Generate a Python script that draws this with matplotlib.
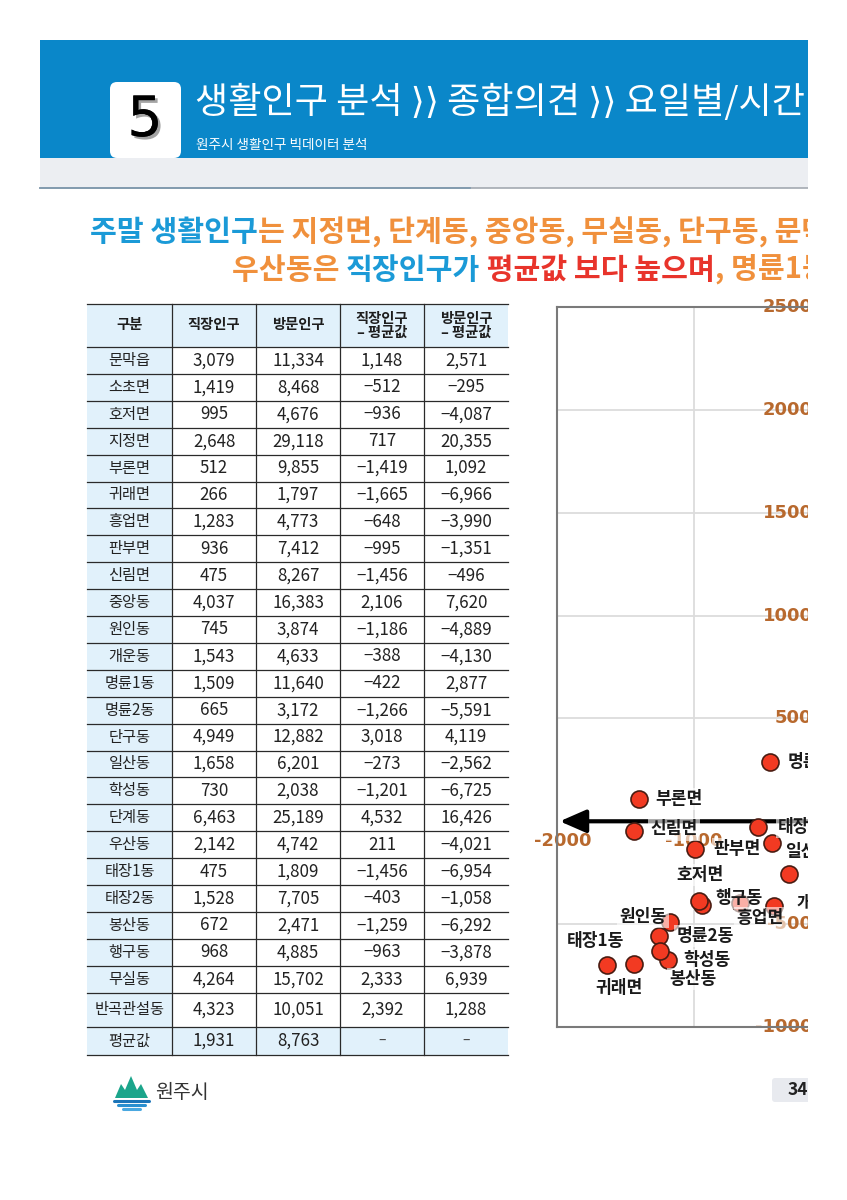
import matplotlib
matplotlib.use('Agg')
import matplotlib.pyplot as plt
import matplotlib.patheffects as pe
from matplotlib.patches import Rectangle, FancyBboxPatch, Polygon

plt.rcParams['font.family'] = ['Noto Sans CJK KR', 'DejaVu Sans']

W, H = 847, 1200

regions = ['문막읍', '소초면', '호저면', '지정면', '부론면', '귀래면', '흥업면', '판부면', '신림면',
           '중앙동', '원인동', '개운동', '명륜1동', '명륜2동', '단구동', '일산동', '학성동', '단계동',
           '우산동', '태장1동', '태장2동', '봉산동', '행구동', '무실동', '반곡관설동']
work_pop = [3079, 1419, 995, 2648, 512, 266, 1283, 936, 475, 4037, 745, 1543, 1509,
            665, 4949, 1658, 730, 6463, 2142, 475, 1528, 672, 968, 4264, 4323]
visit_pop = [11334, 8468, 4676, 29118, 9855, 1797, 4773, 7412, 8267, 16383, 3874, 4633, 11640,
             3172, 12882, 6201, 2038, 25189, 4742, 1809, 7705, 2471, 4885, 15702, 10051]
work_dev = [1148, -512, -936, 717, -1419, -1665, -648, -995, -1456, 2106, -1186, -388, -422,
            -1266, 3018, -273, -1201, 4532, 211, -1456, -403, -1259, -963, 2333, 2392]
visit_dev = [2571, -295, -4087, 20355, 1092, -6966, -3990, -1351, -496, 7620, -4889, -4130, 2877,
             -5591, 4119, -2562, -6725, 16426, -4021, -6954, -1058, -6292, -3878, 6939, 1288]
avg_label = '평균값'
work_avg = 1931
visit_avg = 8763
header = ['구분', '직장인구', '방문인구', '직장인구\n– 평균값', '방문인구\n– 평균값']

y_ticks = [25000, 20000, 15000, 10000, 5000, -5000, -10000]
x_ticks = [-2000, -1000, 0]

# label placement for the scatter (pixel offsets, ha)
label_pos = {
    '부론면': (16, 0, 'left'), '신림면': (16, 2, 'left'), '판부면': (19, 0, 'left'),
    '호저면': (-2, 30, 'center'), '행구동': (17, 3, 'left'), '흥업면': (20, -15, 'center'),
    '원인동': (-3, 5, 'right'), '명륜2동': (17, 0, 'left'), '학성동': (16, 0, 'left'),
    '봉산동': (33, -28, 'center'), '태장1동': (-39, 23, 'center'), '귀래면': (12, -23, 'center'),
    '명륜1동': (18, 0, 'left'), '태장2동': (6, 16, 'left'), '일산동': (-4, 22, 'left'),
    '개운동': (22, 3, 'left'), '소초면': (70, 30, 'left'),
}

BLUE = '#1b9ad7'
ORANGE = '#f0903c'
RED = '#e8342b'
BROWN = '#b8692e'
LIGHT = '#e1f1fb'


def fmt(v):
    return f'{v:,}'.replace('-', '−')


fig = plt.figure(figsize=(W / 100, H / 100), dpi=100)
fig.patch.set_facecolor('white')
bg = fig.add_axes([0, 0, 1, 1])
bg.set_xlim(0, W)
bg.set_ylim(H, 0)
bg.axis('off')

# ---- banner ----
bg.add_patch(Rectangle((40, 40), 768, 118, color='#0a87c9', lw=0))
bg.add_patch(Rectangle((40, 158), 768, 30, color='#eceef2', lw=0))
bg.plot([40, 808], [188, 188], color='#a3a9b1', lw=1.2)
bg.plot([40, 470], [188, 188], color='#7b97ad', lw=1.2)
bg.add_patch(FancyBboxPatch((110, 82), 71, 76, boxstyle='round,pad=0,rounding_size=7',
                            fc='white', ec='none'))
bg.text(145, 121, '5', fontsize=40, family=['Liberation Sans Narrow', 'DejaVu Sans'],
        ha='center', va='center', color='black',
        path_effects=[pe.withSimplePatchShadow(offset=(2, -2), shadow_rgbFace='#9a9a9a', alpha=0.9),
                      pe.Normal()])
bg.text(195, 102, '생활인구 분석 ⟩⟩ 종합의견 ⟩⟩ 요일별/시간대별', fontsize=26, color='white',
        ha='left', va='center', fontweight='medium')
bg.text(196, 145, '원주시 생활인구 빅데이터 분석', fontsize=9.8, color='white', ha='left', va='center')

# ---- heading lines ----
renderer = fig.canvas.get_renderer()


def draw_runs(x, y, runs, size):
    for s, c in runs:
        t = bg.text(x, y, s, color=c, fontsize=size, fontweight='bold', ha='left', va='center')
        x += t.get_window_extent(renderer=renderer).width


draw_runs(90, 232, [('주말 생활인구', BLUE), ('는 지정면, 단계동, 중앙동, 무실동, 단구동, 문막읍,', ORANGE)], 21)
draw_runs(232, 270, [('우산동은 ', ORANGE), ('직장인구가', BLUE), (' 평균값 보다 높으며', RED),
                     (', 명륜1동', ORANGE)], 21)

# ---- table ----
col_x = [87, 172, 256, 340, 424, 508]
row_y = [304, 347] + [347 + 26.9 * (k + 1) for k in range(24)] + [1027, 1055]
n_rows = len(row_y) - 1

# backgrounds
bg.add_patch(Rectangle((col_x[0], row_y[0]), col_x[-1] - col_x[0], row_y[1] - row_y[0], color=LIGHT, lw=0))
bg.add_patch(Rectangle((col_x[0], row_y[-2]), col_x[-1] - col_x[0], row_y[-1] - row_y[-2], color=LIGHT, lw=0))
bg.add_patch(Rectangle((col_x[0], row_y[0]), col_x[1] - col_x[0], row_y[-1] - row_y[0], color=LIGHT, lw=0))

for yy in row_y:
    bg.plot([col_x[0], col_x[-1]], [yy, yy], color='#2a2a2a', lw=0.9)
for xx in col_x[1:-1]:
    bg.plot([xx, xx], [row_y[0], row_y[-1]], color='#2a2a2a', lw=0.9)


def cx(i):
    return (col_x[i] + col_x[i + 1]) / 2


def cy(j):
    return (row_y[j] + row_y[j + 1]) / 2


for i, h in enumerate(header):
    bg.text(cx(i), cy(0), h, ha='center', va='center', fontsize=10.3, fontweight='bold',
            color='#1e1e1e', linespacing=1.0)

NAME_FS = 11
NUM_FS = 12.2
for j, name in enumerate(regions):
    vals = [work_pop[j], visit_pop[j], work_dev[j], visit_dev[j]]
    bg.text(cx(0), cy(j + 1), name, ha='center', va='center', fontsize=NAME_FS, color='#222222')
    for i, v in enumerate(vals):
        bg.text(cx(i + 1), cy(j + 1), fmt(v), ha='center', va='center', fontsize=NUM_FS, color='#222222')

last = n_rows - 1
bg.text(cx(0), cy(last), avg_label, ha='center', va='center', fontsize=NAME_FS, color='#222222')
bg.text(cx(1), cy(last), fmt(work_avg), ha='center', va='center', fontsize=NUM_FS, color='#222222')
bg.text(cx(2), cy(last), fmt(visit_avg), ha='center', va='center', fontsize=NUM_FS, color='#222222')
bg.text(cx(3), cy(last), '–', ha='center', va='center', fontsize=10, color='#444444')
bg.text(cx(4), cy(last), '–', ha='center', va='center', fontsize=10, color='#444444')

# ---- footer ----
bg.add_patch(Polygon([(115, 1098), (121, 1084), (125, 1090), (131, 1076), (137, 1090),
                      (141, 1084), (148, 1098)], closed=True, fc='#1ba58b', ec='none'))
for yy, x0, x1, c in [(1101, 114, 149, '#1b74b8'), (1105, 118, 145, '#2a8fd0'), (1108.5, 123, 140, '#4aa8e0')]:
    bg.plot([x0, x1], [yy, yy], color=c, lw=2.2, solid_capstyle='round')
bg.text(155, 1093, '원주시', fontsize=14, fontweight='medium', color='#333333', ha='left', va='center')
bg.add_patch(FancyBboxPatch((772, 1078), 50, 24, boxstyle='round,pad=0,rounding_size=3',
                            fc='#e8eaef', ec='none'))
bg.text(788, 1090, '34', fontsize=12.5, fontweight='bold', color='#222222', ha='left', va='center')

# ---- scatter ----
ax = fig.add_axes([557 / W, 1 - 1027 / H, (W - 557) / W, 720 / H])
ax.set_xlim(-2046, 168)
ax.set_ylim(-10000, 25000)
ax.set_xticks([])
ax.set_yticks([])
for sp in ['left', 'top', 'bottom']:
    ax.spines[sp].set_color('#7a7a7a')
    ax.spines[sp].set_linewidth(1.5)
ax.spines['right'].set_visible(False)
for gx in [-1000, 0]:
    ax.axvline(gx, color='#dcdcdc', lw=1.3, zorder=0)
for gy in [20000, 15000, 10000, 5000, -5000]:
    ax.axhline(gy, color='#dcdcdc', lw=1.3, zorder=0)

for v in y_ticks:
    ax.text(0, v, str(v), ha='right', va='center', fontsize=13, fontweight='bold',
            family='DejaVu Sans', color=BROWN, zorder=2, clip_on=False)
for v in x_ticks:
    ax.annotate(str(v), (v, 0), xytext=(0, -20), textcoords='offset pixels', ha='center', va='center',
                fontsize=13, fontweight='bold', family='DejaVu Sans', color=BROWN, zorder=2)

ax.annotate('', xy=(-2025, 0), xytext=(168, 0),
            arrowprops=dict(arrowstyle='-|>,head_length=0.8,head_width=0.35', color='black',
                            lw=3, mutation_scale=20, shrinkA=0, shrinkB=0), zorder=3)

ax.scatter(work_dev, visit_dev, s=150, c='#f23a22', edgecolors='#4a1c12', linewidths=1.2, zorder=4)

for name, x, y in zip(regions, work_dev, visit_dev):
    dx, dy, ha = label_pos.get(name, (16, 0, 'left'))
    ax.annotate(name, (x, y), xytext=(dx, dy), textcoords='offset pixels', ha=ha, va='center',
                fontsize=12.3, fontweight='bold', color='#1a1a1a', zorder=5,
                bbox=dict(boxstyle='square,pad=0.12', fc='white', ec='none', alpha=0.6))

# page is cut at the right edge
fig.patches.append(Rectangle((808 / W, 0), 1 - 808 / W, 1, transform=fig.transFigure,
                             fc='white', ec='none', zorder=50))

fig.savefig('out.png', dpi=100)
